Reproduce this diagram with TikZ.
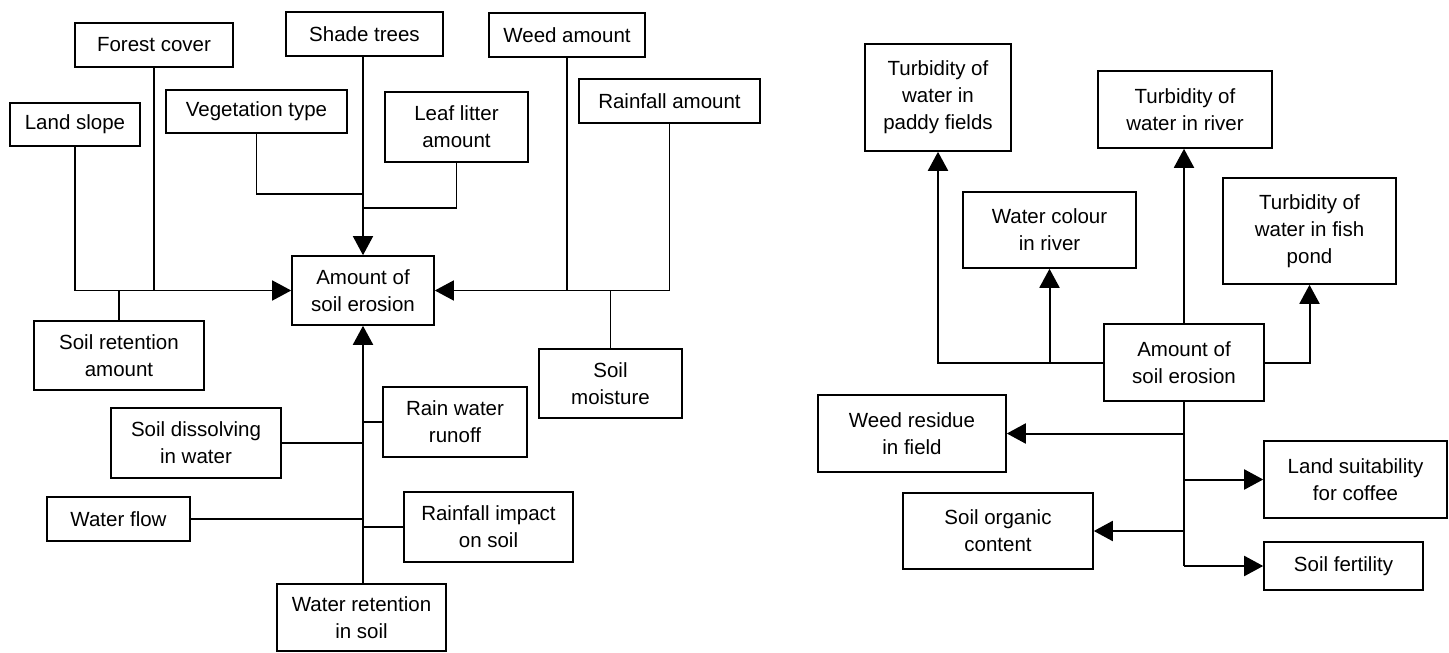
\documentclass[tikz,border=0pt]{standalone}
\usepackage{fontspec}
\setmainfont{Liberation Sans}
\usetikzlibrary{arrows.meta}
\begin{document}
\begin{tikzpicture}[x=1pt,y=-1pt,
  box/.style={draw,line width=1.6pt,fill=white,inner sep=0pt,align=center,
    font=\fontsize{20.5}{27}\selectfont},
  link/.style={line width=1.5pt},
  flow/.style={line width=2pt,-{Triangle[length=19pt,width=20pt]}},
  thinflow/.style={line width=1.5pt,-{Triangle[length=19pt,width=20pt]}},
  bold/.style={line width=2pt}]
\useasboundingbox (0,0) rectangle (1449,653);
% ---------- left diagram ----------
\node[box,minimum width=158pt,minimum height=44pt] (forest) at (154,45) {Forest cover};
\node[box,minimum width=130pt,minimum height=43pt] (land) at (75,124.5) {Land slope};
\node[box,minimum width=181pt,minimum height=43pt] (veg) at (256.5,111.5) {Vegetation type};
\node[box,minimum width=157pt,minimum height=44pt] (shade) at (364.5,34) {Shade trees};
\node[box,minimum width=143pt,minimum height=70pt] (leaf) at (456.5,127) {Leaf litter\\amount};
\node[box,minimum width=156pt,minimum height=44pt] (weed) at (567,35) {Weed amount};
\node[box,minimum width=181pt,minimum height=44pt] (rainamt) at (669.5,101) {Rainfall amount};
\node[box,minimum width=142pt,minimum height=69pt] (amountL) at (363,290.5) {Amount of\\soil erosion};
\node[box,minimum width=170pt,minimum height=69pt] (soilret) at (119,355.5) {Soil retention\\amount};
\node[box,minimum width=143pt,minimum height=69pt] (moist) at (610.5,383.5) {Soil\\moisture};
\node[box,minimum width=144pt,minimum height=70pt] (runoff) at (455,422) {Rain water\\runoff};
\node[box,minimum width=170pt,minimum height=70pt] (dissolv) at (196,443) {Soil dissolving\\in water};
\node[box,minimum width=143pt,minimum height=44pt] (wflow) at (118.5,519) {Water flow};
\node[box,minimum width=169pt,minimum height=70pt] (impact) at (488.5,527) {Rainfall impact\\on soil};
\node[box,minimum width=169pt,minimum height=67pt] (wret) at (361.5,617.5) {Water retention\\in soil};
\coordinate (jv) at (363,194);
\coordinate (jl) at (363,208);
% connectors left
\draw[thinflow] (land.south) |- (amountL.west);
\draw[link] (forest.south) -- (forest.south |- amountL.west);
\draw[link] (soilret.north) -- (soilret.north |- amountL.west);
\draw[link] (veg.south) |- (jv);
\draw[link] (leaf.south) |- (jl);
\draw[thinflow] (amountL.north |- shade.south) -- (amountL.north);
\draw[thinflow] (rainamt.south) |- (amountL.east);
\draw[link] (weed.south) -- (weed.south |- amountL.east);
\draw[link] (moist.north) -- (moist.north |- amountL.east);
\draw[flow] (amountL.south |- wret.north) -- (amountL.south);
\draw[link] (runoff.west) -- (runoff.west -| amountL.south);
\draw[link] (dissolv.east) -- (dissolv.east -| amountL.south);
\draw[link] (wflow.east) -- (wflow.east -| amountL.south);
\draw[link] (impact.west) -- (impact.west -| amountL.south);
% ---------- right diagram ----------
\node[box,minimum width=146pt,minimum height=107pt] (paddy) at (938,97.5) {Turbidity of\\water in\\paddy fields};
\node[box,minimum width=173pt,minimum height=76pt] (colour) at (1049.5,230) {Water colour\\in river};
\node[box,minimum width=174pt,minimum height=77pt] (river) at (1185,109.5) {Turbidity of\\water in river};
\node[box,minimum width=173pt,minimum height=106pt] (fish) at (1309.5,231) {Turbidity of\\water in fish\\pond};
\node[box,minimum width=160pt,minimum height=77pt] (amountR) at (1184,362.5) {Amount of\\soil erosion};
\node[box,minimum width=188pt,minimum height=77pt] (weedres) at (912,433.5) {Weed residue\\in field};
\node[box,minimum width=190pt,minimum height=76pt] (organic) at (998,531) {Soil organic\\content};
\node[box,minimum width=183pt,minimum height=77pt] (suit) at (1355.5,479.5) {Land suitability\\for coffee};
\node[box,minimum width=159pt,minimum height=48pt] (fert) at (1343.5,566) {Soil fertility};
% connectors right
\draw[flow] (amountR.west) -| (paddy.south);
\draw[flow] (colour.south |- amountR.west) -- (colour.south);
\draw[flow] (amountR.north) -- (amountR.north |- river.south);
\draw[flow] (amountR.east) -| (fish.south);
\draw[bold] (amountR.south) -- (amountR.south |- fert.west);
\draw[flow] (amountR.south |- weedres.east) -- (weedres.east);
\draw[flow] (amountR.south |- organic.east) -- (organic.east);
\draw[flow] (amountR.south |- suit.west) -- (suit.west);
\draw[flow] (amountR.south |- fert.west) -- (fert.west);
\end{tikzpicture}
\end{document}
